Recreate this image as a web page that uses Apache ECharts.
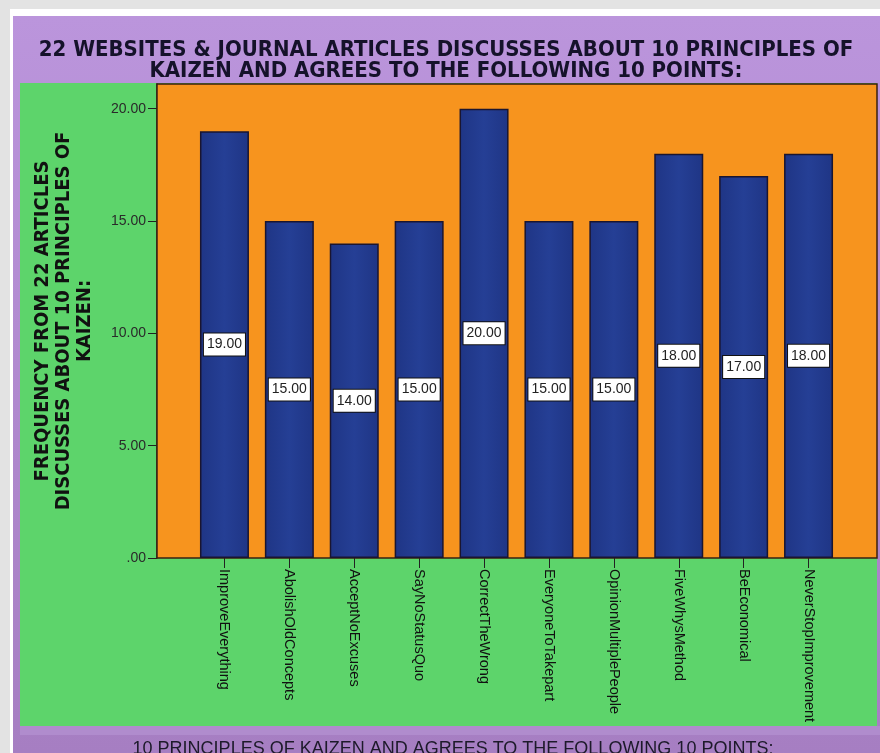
<!DOCTYPE html>
<html>
<head>
<meta charset="utf-8">
<script src="https://cdn.jsdelivr.net/npm/echarts@6/dist/echarts.min.js"></script>
<style>html,body{margin:0;padding:0;background:#e3e3e3;}#c{width:880px;height:753px;}</style>
</head>
<body>
<div id="c"></div>
<script>
var categories = ['ImproveEverything','AbolishOldConcepts','AcceptNoExcuses','SayNoStatusQuo','CorrectTheWrong','EveryoneToTakepart','OpinionMultiplePeople','FiveWhysMethod','BeEconomical','NeverStopImprovement'];
var frequencies = [19, 15, 14, 15, 20, 15, 15, 18, 17, 18];
var yTicks = [0, 5, 10, 15, 20];
var titleText = '22 WEBSITES & JOURNAL ARTICLES DISCUSSES ABOUT 10 PRINCIPLES OF\nKAIZEN AND AGREES TO THE FOLLOWING 10 POINTS:';
var yName = 'FREQUENCY FROM 22 ARTICLES\nDISCUSSES ABOUT 10 PRINCIPLES OF\nKAIZEN:';
var xName = '10 PRINCIPLES OF KAIZEN AND AGREES TO THE FOLLOWING 10 POINTS:';

var narrow = "'Liberation Sans Narrow','Arial Narrow','DejaVu Sans Condensed',sans-serif";
var chart = echarts.init(document.getElementById('c'));
chart.setOption({
  backgroundColor: '#e3e3e3',
  animation: false,
  graphic: [
    {type:'rect', z:-30, silent:true, shape:{x:10,y:9,width:870,height:744}, style:{fill:'#ffffff'}},
    {type:'rect', z:-20, silent:true, shape:{x:13,y:16,width:867,height:737},
      style:{fill:{type:'linear',x:0,y:0,x2:0,y2:1,colorStops:[{offset:0,color:'#bb95dc'},{offset:1,color:'#a67ec2'}]}}},
    {type:'rect', z:-15, silent:true, shape:{x:20,y:726,width:860,height:9}, style:{fill:'#b08ccd'}},
    {type:'rect', z:-10, silent:true, shape:{x:20,y:83,width:857,height:643}, style:{fill:'#5dd46b'}}
  ],
  title: [
    {text: titleText, left: 441, top: 35, textAlign: 'center',
      textStyle:{fontFamily: narrow, fontWeight:'bold', fontSize:22, lineHeight:21, color:'#15122a'}},
    {text: xName, left: 448, top: 735, textAlign: 'center',
      textStyle:{fontFamily:'Liberation Sans, Arial, sans-serif', fontWeight:'normal', fontSize:18, color:'#1d1a2a'}}
  ],
  grid: [
    {left:157, right:3, top:84, bottom:195, show:true, backgroundColor:'#f7941e', borderColor:'#3a2010', borderWidth:1.5, z:1},
    {left:192, right:39, top:84, bottom:195, z:2}
  ],
  xAxis: [
    {type:'value', gridIndex:0, show:false, min:0, max:1},
    {type:'category', gridIndex:1, data: categories,
      axisLine:{show:false},
      axisTick:{show:true, alignWithLabel:true, length:10, lineStyle:{color:'#222', width:1}},
      axisLabel:{rotate:-90, margin:11, fontSize:14.5, color:'#111', fontFamily:'Liberation Sans, Arial, sans-serif', interval:0}
    }
  ],
  yAxis: [
    {type:'value', gridIndex:0, min:0, max:21.1,
      name: yName, nameLocation:'middle', nameGap:62, nameRotate:90,
      nameTextStyle:{fontFamily: narrow, fontWeight:'bold', fontSize:20, lineHeight:21, color:'#111'},
      axisLine:{show:true, lineStyle:{color:'#222', width:1.5}},
      axisTick:{show:true, length:9, customValues: yTicks, lineStyle:{color:'#222'}},
      axisLabel:{customValues: yTicks, margin:11, fontSize:14, color:'#2a2a2a', fontFamily:'Liberation Sans, Arial, sans-serif',
        formatter:function(v){ return v === 0 ? '.00' : v.toFixed(2); }},
      splitLine:{show:false}
    },
    {type:'value', gridIndex:1, min:0, max:21.1, show:false, splitLine:{show:false}}
  ],
  series: [{
    type:'bar', xAxisIndex:1, yAxisIndex:1, data: frequencies, barWidth:49, z:3,
    itemStyle:{
      color:{type:'linear',x:0,y:0,x2:1,y2:0,colorStops:[{offset:0,color:'#1f3585'},{offset:0.5,color:'#253f95'},{offset:1,color:'#1f3585'}]},
      borderColor:'#1a1530', borderWidth:1.5
    },
    label:{show:true, position:'inside', formatter:function(p){return p.value.toFixed(2);},
      backgroundColor:'#ffffff', borderColor:'#111', borderWidth:1, padding:[4,3],
      color:'#222', fontSize:14, fontFamily:'Liberation Sans, Arial, sans-serif'}
  }]
});
</script>
</body>
</html>
